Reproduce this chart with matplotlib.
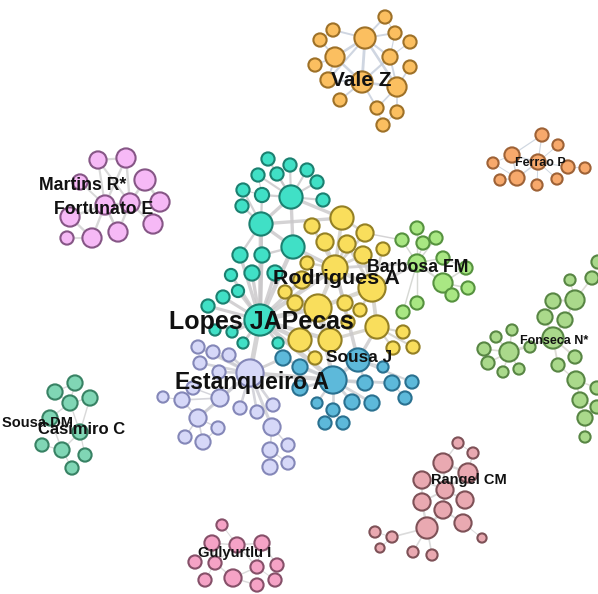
import matplotlib
matplotlib.use("Agg")
import matplotlib.pyplot as plt
from matplotlib.patches import Circle

# ---- nodes: (x, y, radius) in layout units; links: (i, j) pairs ----
vale_nodes = [(365, 38, 10), (362, 82, 10), (397, 87, 9), (335, 57, 9), (390, 57, 7),
              (328, 80, 7), (385, 17, 6), (333, 30, 6), (395, 33, 6), (320, 40, 6),
              (410, 42, 6), (315, 65, 6), (410, 67, 6), (340, 100, 6), (377, 108, 6),
              (397, 112, 6), (383, 125, 6)]
vale_links = [(0, 1), (1, 2), (0, 3), (0, 4), (1, 5), (0, 6), (0, 7), (0, 8), (3, 9), (4, 10),
              (3, 11), (2, 12), (1, 13), (2, 14), (2, 15), (14, 16), (1, 3), (0, 2), (0, 5),
              (1, 4), (2, 4), (3, 5), (15, 16), (1, 14), (8, 4), (6, 8), (9, 7)]

lopes_nodes = [(260, 320, 15), (261, 224, 11), (291, 197, 11), (293, 247, 11), (268, 159, 6),
               (290, 165, 6), (258, 175, 6), (277, 174, 6), (307, 170, 6), (317, 182, 6),
               (243, 190, 6), (262, 195, 6.5), (323, 200, 6), (242, 206, 6), (240, 255, 7),
               (262, 255, 7), (252, 273, 7), (231, 275, 5.5), (275, 273, 7), (238, 291, 5.5),
               (223, 297, 6), (208, 306, 6), (215, 330, 5), (232, 332, 5), (243, 343, 5),
               (278, 343, 5)]
lopes_links = [(1, 0), (2, 1), (3, 0), (4, 2), (5, 2), (6, 2), (7, 2), (8, 2), (9, 2), (10, 1),
               (11, 1), (12, 2), (13, 1), (14, 0), (15, 0), (16, 0), (17, 0), (18, 0), (19, 0),
               (20, 0), (21, 0), (22, 0), (23, 0), (24, 0), (25, 0), (1, 3), (2, 3), (14, 1),
               (15, 1), (15, 3), (11, 2), (10, 11), (6, 11)]

rodrigues_nodes = [(335, 268, 12), (342, 218, 11), (312, 226, 7), (365, 233, 8), (325, 242, 8),
                   (347, 244, 8), (383, 249, 6), (363, 255, 8), (307, 263, 6), (302, 280, 8),
                   (372, 288, 13), (285, 292, 6), (295, 303, 7), (318, 308, 13), (345, 303, 7),
                   (360, 310, 6), (377, 327, 11), (300, 340, 11), (330, 340, 11), (348, 322, 6),
                   (403, 332, 6), (393, 348, 6), (413, 347, 6), (315, 358, 6)]
rodrigues_links = [(1, 0), (2, 0), (3, 0), (4, 0), (5, 0), (6, 10), (7, 0), (8, 0), (9, 0),
                   (10, 0), (11, 13), (12, 13), (13, 0), (14, 0), (15, 10), (16, 10), (17, 13),
                   (18, 13), (19, 0), (20, 16), (21, 16), (22, 16), (23, 17), (10, 13), (1, 3),
                   (16, 18), (7, 10), (5, 10)]

barbosa_nodes = [(417, 263, 8), (417, 228, 6), (402, 240, 6), (423, 243, 6), (443, 258, 6),
                 (443, 283, 9), (417, 303, 6), (403, 312, 6), (466, 268, 6), (468, 288, 6),
                 (452, 295, 6), (436, 238, 6)]
barbosa_links = [(1, 0), (2, 0), (3, 0), (4, 0), (5, 0), (6, 0), (7, 0), (8, 5), (9, 5),
                 (10, 5), (11, 0), (4, 8)]

sousaj_nodes = [(333, 380, 13), (358, 360, 11), (283, 358, 7), (300, 367, 7), (300, 388, 7),
                (365, 383, 7), (392, 383, 7), (412, 382, 6), (383, 367, 5), (405, 398, 6),
                (317, 403, 5), (352, 402, 7), (372, 403, 7), (333, 410, 6), (325, 423, 6),
                (343, 423, 6)]
sousaj_links = [(1, 0), (2, 0), (3, 0), (4, 0), (5, 0), (6, 0), (7, 1), (8, 1), (9, 6),
                (10, 0), (11, 0), (12, 0), (13, 0), (14, 13), (15, 13), (5, 1)]

estanqueiro_nodes = [(250, 373, 13), (198, 347, 6), (213, 352, 6), (229, 355, 6), (200, 363, 6),
                     (219, 372, 6), (193, 388, 6), (163, 397, 5), (182, 400, 7), (220, 398, 8),
                     (240, 408, 6), (257, 412, 6), (273, 405, 6), (198, 418, 8), (272, 427, 8),
                     (218, 428, 6), (185, 437, 6), (203, 442, 7), (270, 450, 7), (288, 445, 6),
                     (270, 467, 7), (288, 463, 6)]
estanqueiro_links = [(1, 0), (2, 0), (3, 0), (4, 0), (5, 0), (6, 9), (7, 8), (8, 9), (9, 0),
                     (10, 0), (11, 0), (12, 0), (13, 9), (14, 0), (15, 13), (16, 13), (17, 13),
                     (18, 14), (19, 14), (20, 18), (21, 18), (8, 6), (15, 17), (13, 0), (8, 13)]

# links between communities of the main component: (group, i, group, j)
bridge_links = [("lopes", 0, "estanqueiro", 0), ("lopes", 0, "sousaj", 0),
                ("lopes", 0, "rodrigues", 0), ("lopes", 0, "rodrigues", 13),
                ("rodrigues", 0, "barbosa", 0), ("rodrigues", 10, "barbosa", 0),
                ("rodrigues", 0, "sousaj", 1), ("lopes", 3, "rodrigues", 0),
                ("lopes", 2, "rodrigues", 1), ("rodrigues", 16, "sousaj", 1),
                ("estanqueiro", 0, "sousaj", 0), ("lopes", 0, "rodrigues", 17),
                ("lopes", 0, "rodrigues", 9), ("estanqueiro", 0, "sousaj", 2),
                ("lopes", 1, "rodrigues", 1), ("rodrigues", 3, "barbosa", 2),
                ("lopes", 0, "rodrigues", 18), ("rodrigues", 13, "sousaj", 0)]

martins_nodes = [(98, 160, 8), (126, 158, 9), (145, 180, 10), (80, 182, 7), (160, 202, 9),
                 (105, 205, 9), (130, 203, 9), (70, 217, 9), (153, 224, 9), (118, 232, 9),
                 (92, 238, 9), (67, 238, 6)]
martins_links = [(0, 5), (1, 6), (2, 6), (3, 5), (4, 6), (6, 5), (7, 5), (8, 6), (9, 5),
                 (10, 5), (11, 10), (0, 1), (5, 9), (6, 9), (2, 4), (0, 6), (1, 5), (7, 10)]

ferrao_nodes = [(538, 162, 7), (542, 135, 6), (558, 145, 5), (512, 155, 7), (493, 163, 5),
                (568, 167, 6), (585, 168, 5), (500, 180, 5), (517, 178, 7), (557, 179, 5),
                (537, 185, 5)]
ferrao_links = [(1, 0), (2, 0), (3, 0), (4, 3), (5, 0), (6, 5), (7, 8), (8, 0), (9, 0),
                (10, 0), (3, 8), (1, 3), (4, 8)]

fonseca_nodes = [(553, 338, 10), (509, 352, 9), (575, 300, 9), (553, 301, 7), (545, 317, 7),
                 (565, 320, 7), (570, 280, 5), (592, 278, 6), (512, 330, 5), (496, 337, 5),
                 (530, 347, 5), (484, 349, 6), (575, 357, 6), (488, 363, 6), (558, 365, 6),
                 (503, 372, 5), (519, 369, 5), (576, 380, 8), (580, 400, 7), (585, 418, 7),
                 (585, 437, 5), (597, 388, 6), (597, 407, 6), (598, 262, 6)]
fonseca_links = [(1, 0), (2, 5), (3, 4), (4, 0), (5, 0), (6, 2), (7, 2), (8, 1), (9, 1),
                 (10, 1), (11, 1), (12, 0), (13, 1), (14, 0), (15, 1), (16, 1), (17, 14),
                 (18, 17), (19, 18), (20, 19), (21, 17), (22, 18), (23, 7), (3, 2)]

sousadm_nodes = [(55, 392, 7), (75, 383, 7), (90, 398, 7), (70, 403, 7), (50, 418, 7),
                 (80, 432, 7), (42, 445, 6), (62, 450, 7), (85, 455, 6), (72, 468, 6)]
sousadm_links = [(0, 3), (1, 3), (2, 3), (4, 3), (5, 3), (6, 7), (7, 5), (8, 5), (9, 7),
                 (4, 7), (0, 1), (4, 5), (2, 5)]

rangel_nodes = [(458, 443, 5), (473, 453, 5), (443, 463, 9), (468, 473, 9), (422, 480, 8),
                (445, 490, 8), (422, 502, 8), (465, 500, 8), (443, 510, 8), (463, 523, 8),
                (427, 528, 10), (375, 532, 5), (392, 537, 5), (482, 538, 4), (380, 548, 4),
                (413, 552, 5), (432, 555, 5)]
rangel_links = [(0, 2), (1, 3), (2, 5), (3, 5), (4, 5), (6, 5), (7, 5), (8, 5), (9, 8),
                (10, 8), (11, 12), (12, 10), (13, 9), (14, 12), (15, 10), (16, 10), (4, 6),
                (6, 10), (2, 3), (0, 1)]

gulyurtlu_nodes = [(222, 525, 5), (212, 543, 7), (237, 545, 7), (262, 543, 7), (195, 562, 6),
                   (215, 563, 6), (257, 567, 6), (277, 565, 6), (205, 580, 6), (233, 578, 8),
                   (257, 585, 6), (275, 580, 6)]
gulyurtlu_links = [(0, 2), (1, 2), (3, 2), (4, 1), (5, 1), (6, 3), (7, 3), (8, 5), (9, 5),
                   (10, 9), (11, 6), (2, 5), (2, 6), (9, 6)]

# ---- author labels: (text, x, y, font size) ----
label_text = ["Lopes JAPecas", "Rodrigues A", "Estanqueiro A", "Sousa J", "Barbosa FM",
              "Vale Z", "Martins R*", "Fortunato E", "Ferrao P", "Fonseca N*",
              "Sousa DM", "Casimiro C", "Rangel CM", "Gulyurtlu I"]
label_x = [261, 336, 252, 359, 418, 361, 83, 104, 540, 554, 38, 82, 469, 235]
label_y = [322, 278, 382, 358, 268, 80, 185, 210, 163, 341, 423, 430, 480, 553]
label_size = [18, 15.4, 16.5, 12.4, 12.8, 15, 12.7, 12.7, 8.9, 9, 10.5, 12, 10.5, 10.6]

# ---- community styling: nodes, links, fill, outline, link colour ----
groups = {
    "vale": (vale_nodes, vale_links, "#FBBF60", "#9E7128", "#C4CCDA"),
    "lopes": (lopes_nodes, lopes_links, "#40E0C6", "#1B8070", "#C8C6C8"),
    "rodrigues": (rodrigues_nodes, rodrigues_links, "#F9DE5C", "#948024", "#D0CDC6"),
    "barbosa": (barbosa_nodes, barbosa_links, "#A9E783", "#56923F", "#CDD0CA"),
    "sousaj": (sousaj_nodes, sousaj_links, "#5DB9DA", "#2A7190", "#C9CCD1"),
    "estanqueiro": (estanqueiro_nodes, estanqueiro_links, "#D6D8F8", "#8487B8", "#CBCBD2"),
    "martins": (martins_nodes, martins_links, "#F6B9F6", "#865686", "#CFCFCF"),
    "ferrao": (ferrao_nodes, ferrao_links, "#F7A96C", "#9E6236", "#C4CEDA"),
    "fonseca": (fonseca_nodes, fonseca_links, "#AAD98B", "#588644", "#D6D4CC"),
    "sousadm": (sousadm_nodes, sousadm_links, "#80D6B5", "#388264", "#D0D0D0"),
    "rangel": (rangel_nodes, rangel_links, "#E9A9B1", "#7E5157", "#D2D2D2"),
    "gulyurtlu": (gulyurtlu_nodes, gulyurtlu_links, "#F5A3C6", "#865069", "#D2D2D2"),
}

fig = plt.figure(figsize=(5.98, 5.94), dpi=100)
ax = fig.add_axes([0, 0, 1, 1])
ax.set_xlim(0, 598)
ax.set_ylim(594, 0)
ax.set_aspect("auto")
ax.axis("off")


def link_width(a, b):
    # heavier strokes between larger (hub) nodes
    s = a[2] + b[2]
    return 0.7 + max(0.0, s - 12) * 0.17


# edges first
for name, (nodes, links, face, edge, lcol) in groups.items():
    for i, j in links:
        a, b = nodes[i], nodes[j]
        ax.plot([a[0], b[0]], [a[1], b[1]], color=lcol, lw=link_width(a, b),
                alpha=0.8, solid_capstyle="round", zorder=1)

for g1, i, g2, j in bridge_links:
    a, b = groups[g1][0][i], groups[g2][0][j]
    ax.plot([a[0], b[0]], [a[1], b[1]], color="#CAC8CA", lw=link_width(a, b),
            alpha=0.8, solid_capstyle="round", zorder=1)

# nodes
for name, (nodes, links, face, edge, lcol) in groups.items():
    for x, y, r in nodes:
        ax.add_patch(Circle((x, y), r + 0.6, facecolor=face, edgecolor=edge,
                            linewidth=1.5, zorder=2))

# labels
for t, x, y, s in zip(label_text, label_x, label_y, label_size):
    ax.text(x, y, t, fontsize=s, fontweight="bold", ha="center", va="center",
            family=["Liberation Sans", "DejaVu Sans"], color="#111111", zorder=3)

fig.savefig("out.png", dpi=100, facecolor="white")
